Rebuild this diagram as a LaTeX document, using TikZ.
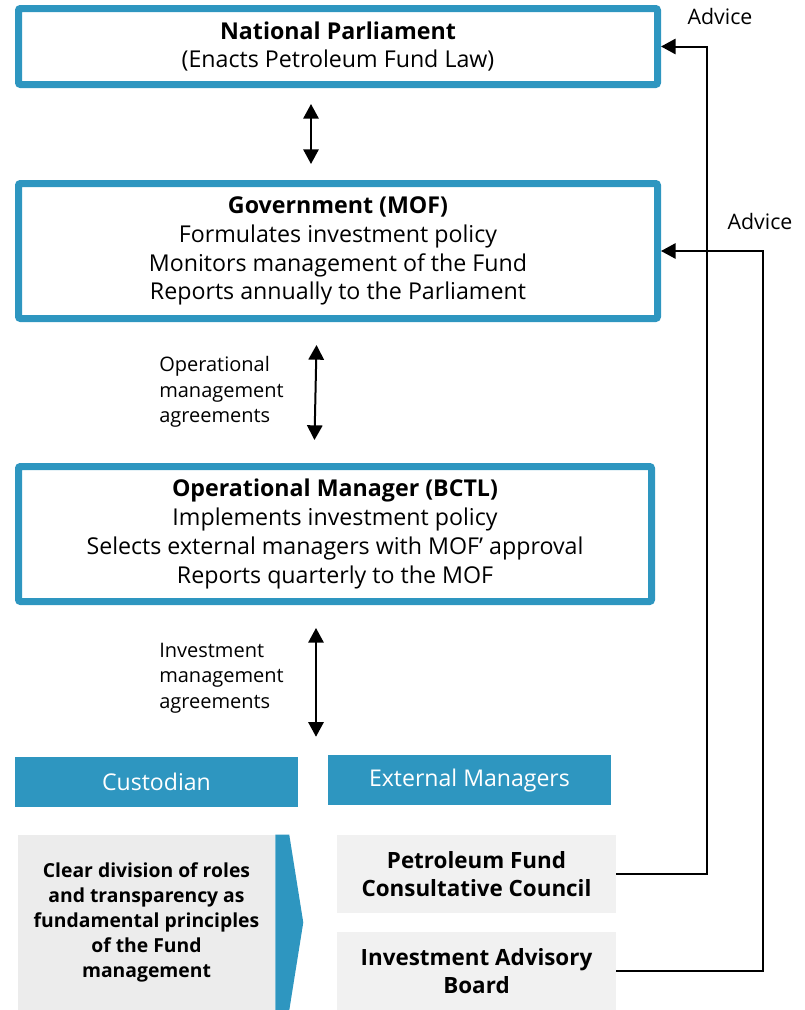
\documentclass[tikz,border=0pt]{standalone}
\usepackage{fontspec}
\setmainfont{Open Sans}
\usetikzlibrary{arrows.meta, calc, positioning}
\definecolor{fundblue}{RGB}{46,150,192}
\definecolor{panelgrey}{RGB}{236,236,236}
\definecolor{boxgrey}{RGB}{241,241,241}
\newcommand{\px}{0.75pt}% one unit of the grid below

\begin{document}
\begin{tikzpicture}[x=0.75pt, y=-0.75pt,% styles used in the chart
         > = {Triangle[length=11pt, width=11.5pt]},
  role/.style = {draw=fundblue, line width=7*\px, rounded corners=2*\px,
                 align=center, inner sep=0pt,
                 minimum width=639*\px, minimum height=135*\px,
                 font=\fontsize{17.4}{21.6}\selectfont},
  head/.style = {fill=fundblue, text=white, inner sep=0pt,
                 minimum width=283*\px, minimum height=50*\px,
                 font=\fontsize{17.3}{19}\selectfont},
  body/.style = {fill=boxgrey, align=center, inner sep=0pt,
                 minimum width=279*\px, minimum height=78*\px,
                 font=\fontsize{16.8}{21.6}\selectfont\bfseries},
  note/.style = {align=left, inner sep=0pt,
                 font=\fontsize{15}{19}\selectfont},
  link/.style = {<->, line width=2*\px},
advice/.style = {->, line width=2*\px}
                    ]
\useasboundingbox (0,0) rectangle (804,1010);

	% the three levels of the fund
	\node[role, minimum height=76*\px] (parl) at (338,46.5)
	  {\textbf{National Parliament}\\(Enacts Petroleum Fund Law)};
	\node[role] (gov) at (338,251)
	  {\textbf{Government (MOF)}\\Formulates investment policy\\
	   Monitors management of the Fund\\Reports annually to the Parliament};
	\node[role, minimum width=633*\px] (opman) at (335,534)
	  {\textbf{Operational Manager (BCTL)}\\Implements investment policy\\
	   Selects external managers with MOF' approval\\Reports quarterly to the MOF};

	% agents below the operational manager
	\node[head] (cust)   at (156.5,782) {Custodian};
	\node[head] (extman) at (469.5,780) {External Managers};

	% agreements between the levels
	\draw[link, shorten <=16*\px, shorten >=16*\px]
	  ([xshift=-27*\px]parl.south) -- ([xshift=-27*\px]gov.north);
	\draw[link, shorten <=23*\px, shorten >=23*\px]
	  ([xshift=-21*\px]gov.south) -- ([xshift=-21*\px]opman.north);
	\draw[link, shorten <=23*\px, shorten >=18*\px]
	  ([xshift=-19*\px]opman.south) -- ([xshift=-19*\px]opman.south |- extman.north);
	\node[note, anchor=west] (opnote)  at (159,392)
	  {Operational\\management\\agreements};
	\node[note, anchor=west] (invnote) at (159,678)
	  {Investment\\management\\agreements};

	% principle panel with its chevron
	\node[fill=panelgrey, align=center, inner sep=0pt,
	      minimum width=257*\px, minimum height=175*\px,
	      font=\fontsize{14.5}{18.8}\selectfont\bfseries] (principle) at (146.5,922.5)
	  {Clear division of roles\\and transparency as\\fundamental principles\\
	   of the Fund\\management};
	\fill[fundblue] (principle.north east) -- ++(14,0)
	  -- ($(principle.east)+(28,0)$) -- ($(principle.south east)+(14,0)$)
	  -- (principle.south east) -- cycle;

	% advisory bodies
	\node[body] (pfcc) at (476.5,874) {Petroleum Fund\\Consultative Council};
	\node[body] (iab)  at (476.5,971) {Investment Advisory\\Board};

	\draw[advice] (pfcc.east) -- ++(91,0) |- (parl.east);
	\draw[advice] (iab.east) -- ++(147,0) |- (gov.east);
	\node[note, font=\fontsize{16}{19}\selectfont] (advtop) at (720,16)  {Advice};
	\node[note, font=\fontsize{16}{19}\selectfont] (advgov) at (760,221) {Advice};
\end{tikzpicture}
\end{document}
